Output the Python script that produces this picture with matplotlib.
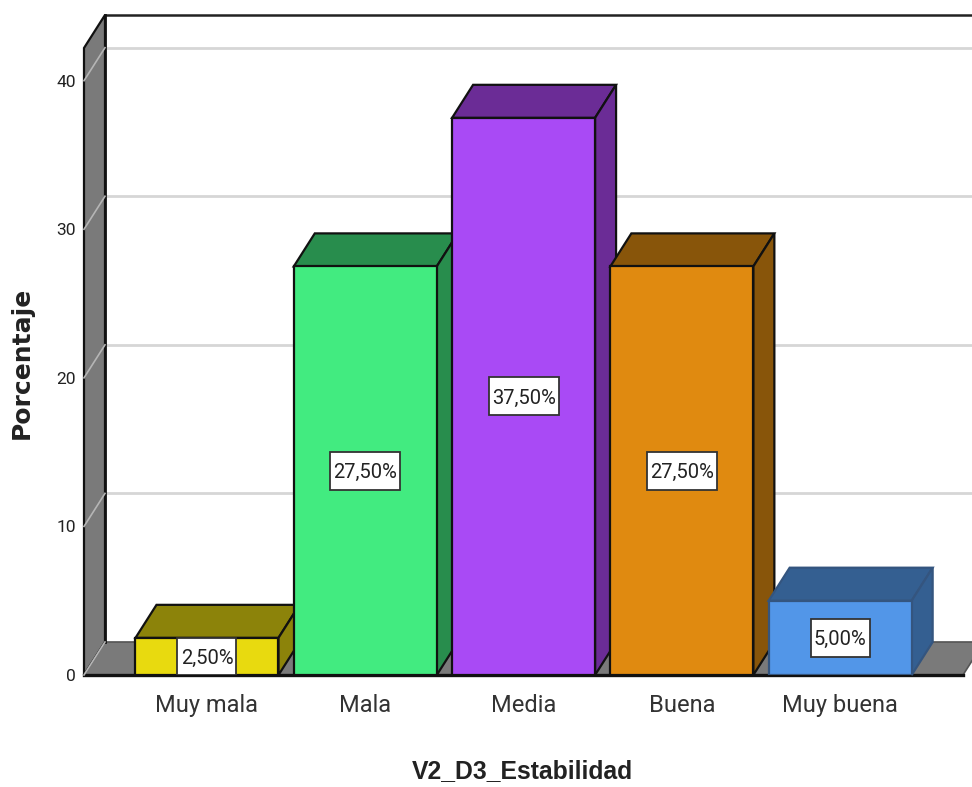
import matplotlib
matplotlib.use('Agg')
import matplotlib.pyplot as plt
from matplotlib.patches import Polygon, Rectangle

# datos
categorias = ['Muy mala', 'Mala', 'Media', 'Buena', 'Muy buena']
porcentajes = [2.5, 27.5, 37.5, 27.5, 5.0]
etiquetas = ['2,50%', '27,50%', '37,50%', '27,50%', '5,00%']
yticks = [0, 10, 20, 30, 40]

frente = ['#E8DA0F', '#42EB80', '#A94AF5', '#E08A10', '#5296E8']
lado = ['#8C830A', '#288D4D', '#6B2C96', '#88550A', '#345F91']
borde = ['#111111', '#111111', '#111111', '#111111', '#34557F']

# profundidad del efecto 3D, en unidades de los ejes
dx = 21 / 158.3
dy = 33 / 14.85
ancho = 143 / 158.3
gris = '#7A7A7A'

fig = plt.figure(figsize=(9.72, 7.87), dpi=100)
ax = fig.add_axes([84 / 972, 112 / 787, 879 / 972, 627 / 787])
xmin, xmax = -0.777, 4.776
ymax = 42.2
ax.set_xlim(xmin, xmax)
ax.set_ylim(0, ymax)
for s in ax.spines.values():
    s.set_visible(False)
ax.patch.set_visible(False)

# paredes y suelo
ax.add_patch(Polygon([(xmin, 0), (xmin + dx, dy), (xmin + dx, ymax + dy), (xmin, ymax)],
                     fc=gris, ec='#111111', lw=1.6, clip_on=False, zorder=1))
ax.add_patch(Polygon([(xmin, 0), (xmin + dx, dy), (xmax + dx, dy), (xmax, 0)],
                     fc=gris, ec='#555555', lw=1.2, clip_on=False, zorder=1))
ax.plot([xmin + dx, xmax + dx], [ymax + dy, ymax + dy], color='#222222', lw=1.8, clip_on=False, zorder=2)
ax.plot([xmin, xmax], [0, 0], color='#111111', lw=2.4, clip_on=False, zorder=2)
ax.plot([xmin + dx, xmin + dx], [dy, ymax + dy], color='#111111', lw=2, clip_on=False, zorder=2)

# rejilla
for t in yticks:
    ax.plot([xmin, xmin + dx], [t, t + dy], color='#B5B5B5', lw=1.2, clip_on=False, zorder=2)
    if t > 0:
        ax.plot([xmin + dx, xmax + dx], [t + dy, t + dy], color='#D6D6D6', lw=2, clip_on=False, zorder=1)

# barras de izquierda a derecha, cada una tapa el lado de la anterior
for i, v in enumerate(porcentajes):
    z = 3 + i
    x0 = i - ancho / 2
    x1 = i + ancho / 2
    ax.add_patch(Polygon([(x0, v), (x0 + dx, v + dy), (x1 + dx, v + dy), (x1, v)],
                         fc=lado[i], ec=borde[i], lw=1.6, zorder=z, clip_on=False))
    ax.add_patch(Polygon([(x1, 0), (x1 + dx, dy), (x1 + dx, v + dy), (x1, v)],
                         fc=lado[i], ec=borde[i], lw=1.6, zorder=z, clip_on=False))
    ax.bar(i, v, width=ancho, color=frente[i], edgecolor=borde[i], linewidth=1.6, zorder=z)

    # caja de la etiqueta
    w = 70 / 158.3 if i not in (0, 4) else 59 / 158.3
    h = 38 / 14.85
    if i == 0:
        h = v
    ax.add_patch(Rectangle((i - w / 2, v / 2 - h / 2), w, h,
                           fc='white', ec='#333333', lw=1.3, zorder=z + 0.5))
    ax.text(i, v / 2, etiquetas[i], ha='center', va='center_baseline',
            fontsize=14.5, family='Roboto', color='#222222', zorder=z + 1)

ax.set_xticks(range(5))
ax.set_xticklabels(categorias, fontsize=17, family='Roboto', color='#333333')
ax.set_yticks(yticks)
ax.set_yticklabels([str(t) for t in yticks], fontsize=12.5, family='Roboto', color='#222222')
ax.tick_params(axis='both', length=0)
ax.tick_params(axis='x', pad=14)
ax.tick_params(axis='y', pad=6)

ax.set_xlabel('V2_D3_Estabilidad', fontsize=17.8, fontweight='bold', family='Liberation Sans', color='#222222')
ax.set_ylabel('Porcentaje', fontsize=18, fontweight='bold', family='DejaVu Sans', color='#222222')
ax.xaxis.set_label_coords(0.499, -96 / 627)
ax.yaxis.set_label_coords(-62 / 879, 0.4976)
ax.xaxis.label.set_verticalalignment('center')
ax.yaxis.label.set_verticalalignment('center')

fig.savefig('out.png', dpi=100)
